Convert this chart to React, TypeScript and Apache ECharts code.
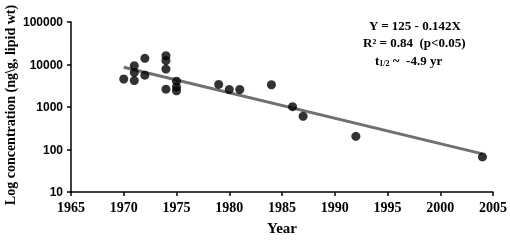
import React, { useEffect, useRef } from "react";
import * as echarts from "echarts";

const years = [1970, 1971, 1971, 1971, 1972, 1972, 1974, 1974, 1974, 1974, 1975, 1975, 1975, 1979, 1980, 1981, 1984, 1986, 1987, 1992, 2004];
const concentrations = [4560, 9400, 6440, 4190, 14000, 5600, 16100, 12400, 7800, 2630, 4050, 2970, 2410, 3400, 2580, 2580, 3340, 1016, 605, 204, 67];
const fitYears = [1970, 2004];
const fitValues = [8650, 79];
const equationLines = ["Y = 125 - 0.142X", "R² = 0.84  (p<0.05)"];
const yTitle = "Log concentration (ng\\g, lipid wt)";
const xTitle = "Year";

export default function App() {
  const ref = useRef<HTMLDivElement>(null);
  useEffect(() => {
    if (!ref.current) return;
    const chart = echarts.init(ref.current, null, { renderer: "svg" });
    const serif = "'Liberation Serif', 'Times New Roman', serif";
    const sans = "'Liberation Sans', Arial, sans-serif";
    chart.setOption({
      animation: false,
      grid: { left: 71, right: 17, top: 22, bottom: 40 },
      xAxis: {
        type: "value",
        min: 1965,
        max: 2005,
        interval: 5,
        name: xTitle,
        nameLocation: "middle",
        nameGap: 28,
        nameTextStyle: { fontFamily: serif, fontWeight: "bold", fontSize: 15, color: "#000" },
        axisLine: { lineStyle: { color: "#000", width: 1.5 } },
        axisTick: { show: true, length: 4, lineStyle: { color: "#000", width: 1.5 } },
        axisLabel: {
          fontFamily: serif,
          fontWeight: "bold",
          fontSize: 14,
          color: "#000",
          margin: 8,
          formatter: (v: number) => String(v),
        },
        splitLine: { show: false },
      },
      yAxis: {
        type: "log",
        logBase: 10,
        min: 10,
        max: 100000,
        axisLine: { show: true, lineStyle: { color: "#000", width: 1.5 } },
        axisTick: { show: true, length: 4, lineStyle: { color: "#000", width: 1.5 } },
        axisLabel: {
          fontFamily: sans,
          fontWeight: "bold",
          fontSize: 12,
          color: "#000",
          margin: 8,
          formatter: (v: number) => String(Math.round(v)),
        },
        splitLine: { show: false },
        minorTick: { show: false },
      },
      series: [
        {
          type: "line",
          data: fitYears.map((y, i) => [y, fitValues[i]]),
          symbol: "none",
          lineStyle: { color: "#707070", width: 3 },
          z: 1,
        },
        {
          type: "scatter",
          data: years.map((y, i) => [y, concentrations[i]]),
          symbol: "circle",
          symbolSize: 9,
          itemStyle: { color: "#000" },
          z: 2,
        },
      ],
      graphic: [
        {
          type: "text",
          x: 10,
          y: 105,
          rotation: Math.PI / 2,
          style: {
            text: yTitle,
            font: `bold 14px ${serif}`,
            fill: "#000",
            align: "center",
            verticalAlign: "middle",
          },
        },
        {
          type: "text",
          left: 369,
          top: 19,
          style: { text: equationLines[0], font: `bold 13px ${serif}`, fill: "#000" },
        },
        {
          type: "text",
          left: 363,
          top: 36,
          style: { text: equationLines[1], font: `bold 13px ${serif}`, fill: "#000" },
        },
        {
          type: "text",
          left: 375,
          top: 54,
          style: {
            text: "{t|t}{s|1/2}{t| ~  -4.9 yr}",
            rich: {
              t: { font: `bold 13px ${serif}`, fill: "#000" },
              s: { font: `bold 8px ${serif}`, fill: "#000", padding: [6, 0, 0, 0] },
            },
          },
        },
      ],
    });
    return () => chart.dispose();
  }, []);
  return (
    <div
      ref={ref}
      style={{ position: "fixed", left: 0, top: 0, width: 510, height: 240 }}
    />
  );
}
